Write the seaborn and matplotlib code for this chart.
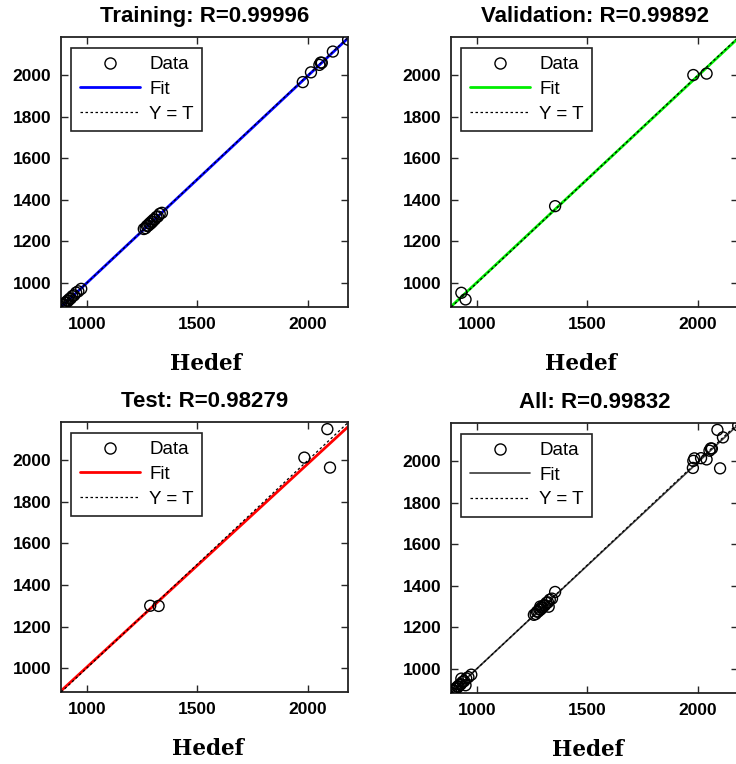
import numpy as np
import matplotlib
matplotlib.use('Agg')
import matplotlib.pyplot as plt
from matplotlib.lines import Line2D
import seaborn as sns

# Targets (Hedef) and outputs
train_t = [886, 893, 898, 903, 908, 912, 917, 922, 928, 935, 943, 952, 962, 975,
           1258, 1266, 1272, 1278, 1283, 1288, 1292, 1297, 1302, 1308, 1315, 1322, 1330, 1340,
           1977, 2014, 2052, 2058, 2063, 2113, 2182]
train_y = [884, 895, 896, 905, 906, 914, 915, 924, 926, 937, 941, 954, 960, 972,
           1260, 1264, 1275, 1276, 1286, 1285, 1295, 1294, 1305, 1306, 1318, 1320, 1333, 1338,
           1967, 2014, 2050, 2061, 2060, 2114, 2171]

val_t = [930, 949, 1354, 1979, 2039]
val_y = [953, 921, 1370, 2001, 2008]

test_t = [1287, 1325, 1984, 2088, 2100]
test_y = [1300, 1299, 2013, 2150, 1965]

names = ['Training', 'Validation', 'Test', 'All']
r_values = [0.99996, 0.99892, 0.98279, 0.99832]
fit_colors = ['#0000ff', '#00ee00', '#ff0000', '#3a3a3a']

all_t = train_t + val_t + test_t
all_y = train_y + val_y + test_y
sets = [(train_t, train_y), (val_t, val_y), (test_t, test_y), (all_t, all_y)]

sns.set_theme(style='ticks')
plt.rcParams['font.family'] = ['Liberation Sans', 'DejaVu Sans']
plt.rcParams.update({
    'xtick.direction': 'in', 'ytick.direction': 'in',
    'xtick.top': True, 'ytick.right': True,
    'xtick.major.size': 5, 'ytick.major.size': 5,
    'axes.edgecolor': '#222222', 'axes.linewidth': 1.3,
    'text.color': 'black', 'xtick.labelcolor': 'black', 'ytick.labelcolor': 'black',
    'axes.labelcolor': 'black', 'axes.titlecolor': 'black',
})

fig = plt.figure(figsize=(7.36, 7.64), dpi=100)
rects = [[0.083, 0.598, 0.390, 0.353], [0.613, 0.598, 0.390, 0.353],
         [0.083, 0.094, 0.390, 0.353], [0.613, 0.093, 0.390, 0.353]]
label_x = [0.505, 0.453, 0.512, 0.477]

lo = min(all_t + all_y)
hi = max(all_t + all_y)
lims = np.array([lo, hi])

for i in range(4):
    t, y = sets[i]
    ax = fig.add_axes(rects[i])
    sns.scatterplot(x=t, y=y, ax=ax, marker='o', s=62, facecolor='none',
                    edgecolor='black', linewidth=1.0, zorder=3)
    a, b = np.polyfit(t, y, 1)
    lw = 1.2 if i == 3 else 2.0
    sns.lineplot(x=lims, y=a * lims + b, ax=ax, color=fit_colors[i], lw=lw, zorder=2)
    ax.plot(lims, lims, color='black', ls=(0, (2, 2)), lw=0.9, zorder=4)

    ax.set_xlim(lo, hi)
    ax.set_ylim(lo, hi)
    ax.set_xticks([1000, 1500, 2000])
    ax.set_yticks([1000, 1200, 1400, 1600, 1800, 2000])
    ax.tick_params(labelsize=12.5, pad=7, width=1)
    for lab in ax.get_xticklabels() + ax.get_yticklabels():
        lab.set_fontweight('bold')

    ax.set_title(f'{names[i]}: R={r_values[i]:.5f}', fontsize=16,
                 fontweight='bold', pad=11)
    ax.set_xlabel('Hedef', fontsize=15.5, fontweight='bold', family='DejaVu Serif')
    ax.xaxis.set_label_coords(label_x[i], -0.17)
    ax.set_ylabel('')

    handles = [
        Line2D([], [], marker='o', ls='none', mfc='none', mec='black', ms=8),
        Line2D([], [], color=fit_colors[i], lw=lw),
        Line2D([], [], color='black', ls=(0, (2, 2)), lw=0.9),
    ]
    leg = ax.legend(handles, ['Data', 'Fit', 'Y = T'], loc='upper left',
                    fontsize=13.5, handlelength=3.2, handletextpad=0.5,
                    labelspacing=0.4, borderaxespad=0.55, borderpad=0.45,
                    fancybox=False, framealpha=1, edgecolor='#222222')
    leg.get_frame().set_linewidth(1.2)

fig.savefig('out.png', dpi=100)
